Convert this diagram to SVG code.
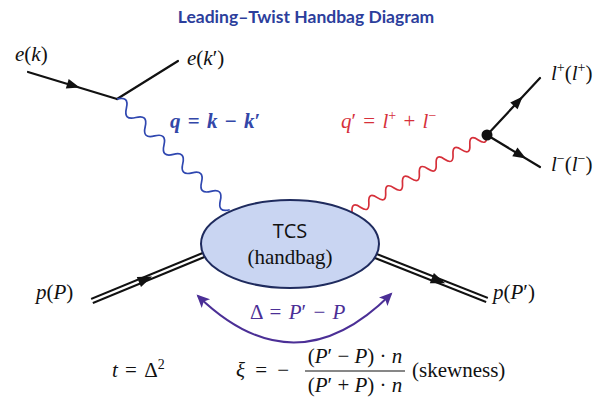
<svg xmlns="http://www.w3.org/2000/svg" width="613" height="397" viewBox="0 0 613 397">
<style>
  .m { font-family: "Liberation Serif", "Times New Roman", serif; font-size: 21px; fill: #111; word-spacing: 2px; }
  .i { font-style: italic; }
  .sup { font-size: 14px; }
  .fermion { stroke: #111; stroke-width: 2.2; fill: none; stroke-linecap: round; }
  .proton-outer { stroke: #111; stroke-width: 6.5; fill: none; }
  .proton-inner { stroke: #fff; stroke-width: 2.3; fill: none; }
  .wave { fill: none; stroke-width: 1.7; stroke-linejoin: round; }
  .arrowhead { fill: #111; }
</style>
<defs>
  <path id="arr" d="M7,0 L-6,-5 L-6,5 Z"/>
  <marker id="parr" viewBox="-12 -7 15 14" refX="0" refY="0" markerWidth="15" markerHeight="14" markerUnits="userSpaceOnUse" orient="auto-start-reverse">
    <path d="M2,0 L-11,-6 L-8,0 L-11,6 Z" fill="#4b2f96"/>
  </marker>
</defs>
<rect width="613" height="397" fill="#fff"/>

<text x="306" y="23" text-anchor="middle" font-family="Lato, 'Open Sans', sans-serif" font-weight="bold" font-size="17.5" fill="#2c3e9c">Leading–Twist Handbag Diagram</text>

<g id="connectors">
  <!-- electron lines -->
  <line class="fermion" x1="28" y1="72" x2="117" y2="99"/>
  <use href="#arr" class="arrowhead" transform="translate(73,85.5) rotate(16.9)"/>
  <line class="fermion" x1="117" y1="99" x2="178" y2="61"/>
  <!-- virtual photon q -->
  <path class="wave" stroke="#2f47b0" transform="translate(117,99) rotate(44.5)" d="M0,0 q6.58,-11 13.17,0 t13.17,0 t13.17,0 t13.17,0 t13.17,0 t13.17,0 t13.17,0 t13.17,0 t13.17,0 t13.17,0 t13.17,0 t13.17,0"/>
  <!-- outgoing photon q' -->
  <path class="wave" stroke="#d6303a" transform="translate(352,212) rotate(-29.7)" d="M0,0 q4.85,-10 9.69,0 t9.69,0 t9.69,0 t9.69,0 t9.69,0 t9.69,0 t9.69,0 t9.69,0 t9.69,0 t9.69,0 t9.69,0 t9.69,0 t9.69,0 t9.69,0 t9.69,0 t9.69,0"/>
  <!-- lepton pair -->
  <line class="fermion" x1="487" y1="135" x2="540" y2="78"/>
  <use href="#arr" class="arrowhead" transform="translate(518,101.5) rotate(-47)"/>
  <line class="fermion" x1="487" y1="135" x2="540" y2="167"/>
  <use href="#arr" class="arrowhead" transform="translate(520,155) rotate(31)"/>
  <!-- protons -->
  <line class="proton-outer" x1="92" y1="301" x2="206" y2="254"/>
  <line class="proton-inner" x1="91" y1="301.4" x2="206" y2="254"/>
  <use href="#arr" class="arrowhead" transform="translate(145,279.5) rotate(-22.5) scale(1.1)"/>
  <line class="proton-outer" x1="372" y1="254.5" x2="487" y2="300"/>
  <line class="proton-inner" x1="372" y1="254.5" x2="488" y2="300.4"/>
  <use href="#arr" class="arrowhead" transform="translate(438,280.5) rotate(21.5) scale(1.1)"/>
  <!-- momentum transfer arc -->
  <path d="M198,296 Q295,390 391,294" fill="none" stroke="#4b2f96" stroke-width="2" marker-start="url(#parr)" marker-end="url(#parr)"/>
</g>

<g id="vertex-lepton">
  <circle cx="487" cy="135" r="5.5" fill="#111"/>
</g>

<g id="tcs-blob">
  <ellipse cx="290" cy="244" rx="89" ry="44" fill="#c9d5f2" stroke="#1f2b5e" stroke-width="2"/>
  <text x="290" y="238" text-anchor="middle" font-family="'Open Sans', 'Liberation Sans', sans-serif" font-size="20" fill="#111">TCS</text>
  <text x="290" y="264" text-anchor="middle" class="m">(handbag)</text>
</g>

<g id="labels">
  <text class="m" x="15" y="61"><tspan class="i">e</tspan>(<tspan class="i">k</tspan>)</text>
  <text class="m" x="187" y="65"><tspan class="i">e</tspan>(<tspan class="i">k</tspan>′)</text>
  <text class="m" x="170" y="128" style="fill:#3347a8;font-weight:bold"><tspan class="i">q</tspan> = <tspan class="i">k</tspan> − <tspan class="i">k</tspan>′</text>
  <text class="m" x="341" y="128" style="fill:#d6303a"><tspan class="i">q</tspan>′ = <tspan class="i">l</tspan><tspan class="sup" dy="-8">+</tspan><tspan dy="8"> + </tspan><tspan class="i">l</tspan><tspan class="sup" dy="-8">−</tspan></text>
  <text class="m" x="551" y="80"><tspan class="i">l</tspan><tspan class="sup" dy="-8">+</tspan><tspan dy="8">(</tspan><tspan class="i">l</tspan><tspan class="sup" dy="-8">+</tspan><tspan dy="8">)</tspan></text>
  <text class="m" x="551" y="171"><tspan class="i">l</tspan><tspan class="sup" dy="-8">−</tspan><tspan dy="8">(</tspan><tspan class="i">l</tspan><tspan class="sup" dy="-8">−</tspan><tspan dy="8">)</tspan></text>
  <text class="m" x="36" y="299"><tspan class="i">p</tspan>(<tspan class="i">P</tspan>)</text>
  <text class="m" x="493" y="299"><tspan class="i">p</tspan>(<tspan class="i">P</tspan>′)</text>
  <text class="m" x="250" y="319" style="fill:#4b2f96">Δ = <tspan class="i">P</tspan>′ − <tspan class="i">P</tspan></text>
  <text class="m" x="112" y="377"><tspan class="i">t</tspan> = Δ<tspan class="sup" dy="-8">2</tspan></text>
  <text class="m" x="236" y="377" style="word-spacing:5px"><tspan class="i">ξ</tspan> = −</text>
  <text class="m" x="355" y="363" text-anchor="middle" style="word-spacing:0">(<tspan class="i">P</tspan>′ − <tspan class="i">P</tspan>) · <tspan class="i">n</tspan></text>
  <line x1="305" y1="371" x2="405" y2="371" stroke="#111" stroke-width="1.2"/>
  <text class="m" x="355" y="392" text-anchor="middle" style="word-spacing:0">(<tspan class="i">P</tspan>′ + <tspan class="i">P</tspan>) · <tspan class="i">n</tspan></text>
  <text class="m" x="412" y="377" font-size="18">(skewness)</text>
</g>
</svg>
